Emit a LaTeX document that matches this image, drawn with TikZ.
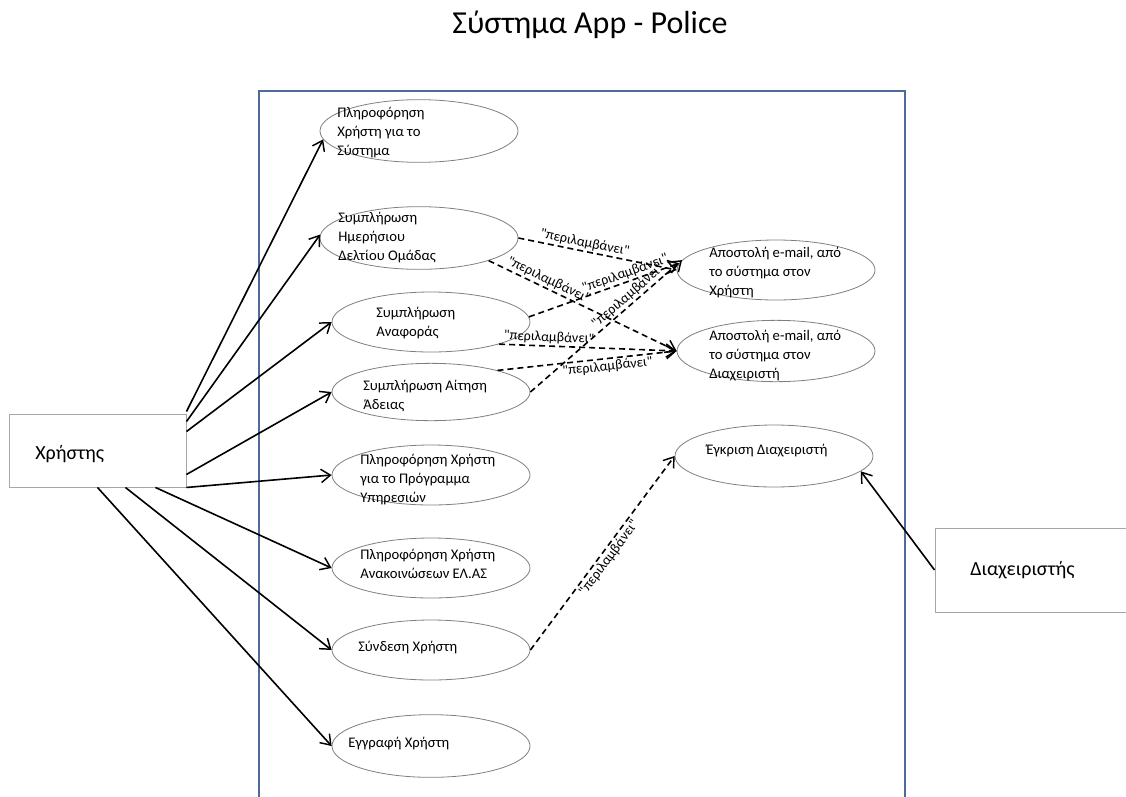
\documentclass[tikz,border=0pt]{standalone}
\usepackage{fontspec}
\setmainfont{Carlito}
% a copy of the font without TeX ligatures, so that " stays a straight quote
\newfontfamily\quotefont{Carlito}
\usetikzlibrary{shapes.geometric,arrows.meta}

\definecolor{ucgray}{HTML}{7F7F7F}
\definecolor{actgray}{HTML}{A6A6A6}
\definecolor{sysblue}{HTML}{4F6B9A}

\begin{document}
\begin{tikzpicture}[x=0.75pt,y=-0.75pt,
  usecase/.style={draw=ucgray, line width=0.6pt, ellipse, inner sep=0pt,
                  minimum width=148.5pt, minimum height=45pt},
  uctext/.style={anchor=base west, align=left, inner sep=0pt,
                 font=\fontsize{11}{14.25}\selectfont},
  actor/.style={draw=actgray, line width=0.7pt, rectangle, inner sep=0pt},
  actortext/.style={anchor=base west, inner sep=0pt, font=\fontsize{15}{18}\selectfont},
  assoc/.style={draw=black, line width=1.2pt,
                -{Straight Barb[length=7pt,width=10pt,line width=1.1pt]}},
  incl/.style={assoc, dash pattern=on 4.5pt off 3pt},
  incllabel/.style={sloped, inner sep=1pt, font=\quotefont\fontsize{10.5}{12}\selectfont}
]
\useasboundingbox (0,0) rectangle (1126,796);

% title
\node[anchor=base, inner sep=0pt, font=\fontsize{24}{28}\selectfont] (title) at (590,33) {Σύστημα App - Police};

% system boundary (open at the bottom edge)
\draw[sysblue, line width=1.2pt] (259,800) -- (259,91) -- (905,91) -- (905,800);

% actors
\node[actor, minimum width=132.75pt, minimum height=54.75pt] (user) at (97.5,450.5) {};
\node[actortext] (usertext) at (35,459) {Χρήστης};
\node[actor, minimum width=161.25pt, minimum height=63pt] (admin) at (1042.5,570) {};
\node[actortext] (admintext) at (970,575) {Διαχειριστής};

% use cases (text nodes are anchored at the baseline of their last line)
\node[usecase, minimum height=47pt] (u1) at (419,131) {};
\node[uctext] (t1) at (337,155) {Πληροφόρηση\\Χρήστη για το\\Σύστημα};
\node[usecase, minimum height=47pt] (u2) at (419,238) {};
\node[uctext] (t2) at (338,260) {Συμπλήρωση\\Ημερήσιου\\Δελτίου Ομάδας};
\node[usecase] (u3) at (431,322) {};
\node[uctext] (t3) at (376,336) {Συμπλήρωση\\Αναφοράς};
\node[usecase, minimum height=43pt] (u4) at (431,392) {};
\node[uctext] (t4) at (363,409) {Συμπλήρωση Αίτηση\\Άδειας};
\node[usecase] (u5) at (431,475) {};
\node[uctext] (t5) at (360,502) {Πληροφόρηση Χρήστη\\για το Πρόγραμμα\\Υπηρεσιών};
\node[usecase] (u6) at (431,568) {};
\node[uctext] (t6) at (360,578) {Πληροφόρηση Χρήστη\\Ανακοινώσεων ΕΛ.ΑΣ};
\node[usecase] (u7) at (431,650) {};
\node[uctext] (t7) at (358,651) {Σύνδεση Χρήστη};
\node[usecase, minimum height=47pt] (u8) at (431,746) {};
\node[uctext] (t8) at (348,747) {Εγγραφή Χρήστη};
\node[usecase] (u9) at (776,270) {};
\node[uctext] (t9) at (709,295) {Αποστολή e-mail, από\\το σύστημα στον\\Χρήστη};
\node[usecase, minimum height=46pt] (u10) at (776,351) {};
\node[uctext] (t10) at (709,378) {Αποστολή e-mail, από\\το σύστημα στον\\Διαχειριστή};
\node[usecase, minimum height=46.5pt] (u11) at (774,456) {};
\node[uctext] (t11) at (706,454) {Έγκριση Διαχειριστή};

% associations of the user
\draw[assoc] ([yshift=1.5pt]user.north east) -- (u1.185);
\draw[assoc] ([yshift=-6pt]user.north east) -- (u2.178);
\draw[assoc] ([yshift=-13.5pt]user.north east) -- (u3.west);
\draw[assoc] ([yshift=9.75pt]user.south east) -- (u4.west);
\draw[assoc] (user.south east) -- (u5.west);
\draw[assoc] ([xshift=-23.25pt]user.south east) -- (u6.west);
\draw[assoc] ([xshift=-45.75pt]user.south east) -- (u7.west);
\draw[assoc] (user.south) -- (u8.west);

% association of the administrator
\draw[assoc] (admin.west) -- (u11.350);

% include relations
\draw[incl] (u2.east) -- node[incllabel, pos=0.41, above] (l1) {"περιλαμβάνει"} (u9.180);
\draw[incl] (u2.342) -- node[incllabel, pos=0.30, above] (l2) {"περιλαμβάνει"} (u10.west);
\draw[incl] (u3.3) -- node[incllabel, pos=0.66, above] (l3) {"περιλαμβάνει"} (u9.176);
\draw[incl] (u3.342) -- node[incllabel, pos=0.28, above] (l4) {"περιλαμβάνει"} (u10.west);
\draw[incl] (u4.east) -- node[incllabel, pos=0.68, above] (l5) {"περιλαμβάνει"} (u9.174);
\draw[incl] (u4.18) -- node[incllabel, pos=0.61, below] (l6) {"περιλαμβάνει"} (u10.west);
\draw[incl] (u7.east) -- node[incllabel, pos=0.5, below] (l7) {"περιλαμβάνει"} (u11.west);
\end{tikzpicture}
\end{document}
